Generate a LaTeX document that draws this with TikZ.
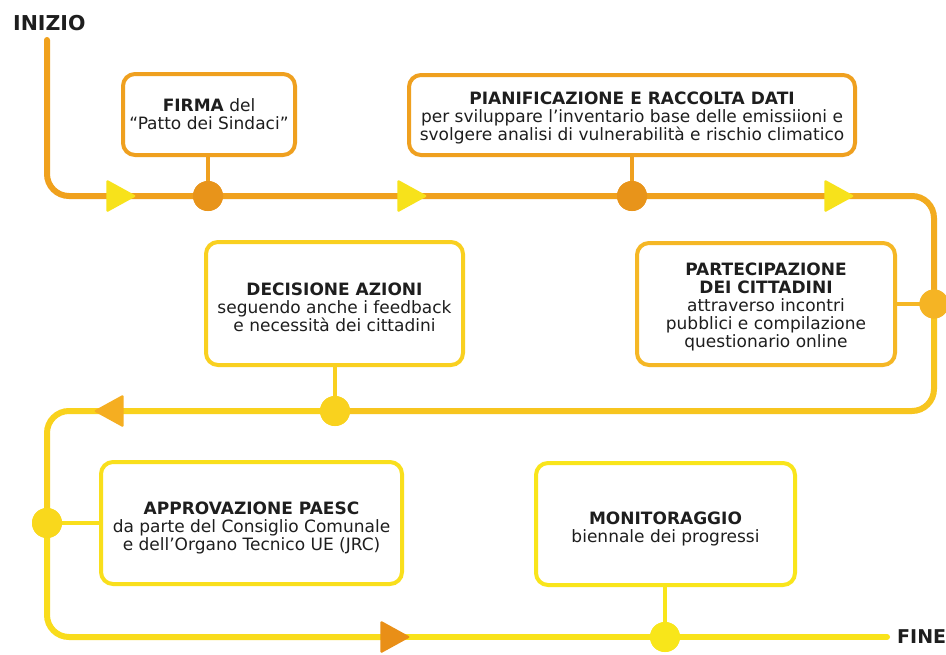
\documentclass[tikz,border=0pt]{standalone}
\usepackage{fontspec}
\setmainfont{DejaVu Sans}
\usetikzlibrary{shapes.geometric}
\definecolor{txt}{HTML}{1E1E1E}
\definecolor{cA}{HTML}{F0A11D}
\definecolor{cB}{HTML}{F2AB1F}
\definecolor{cC}{HTML}{F7C51F}
\definecolor{cD}{HTML}{F9D21D}
\definecolor{cE}{HTML}{F9DC1C}
\definecolor{cF}{HTML}{F9E31A}
\definecolor{bOr}{HTML}{EFA01F}
\definecolor{bB3}{HTML}{F5B725}
\definecolor{bB4}{HTML}{F9D020}
\definecolor{bB5}{HTML}{F9DF1C}
\definecolor{bB6}{HTML}{F9E51B}
\definecolor{dOr}{HTML}{E8941A}
\definecolor{dB3}{HTML}{F5B424}
\definecolor{dB4}{HTML}{F9D21E}
\definecolor{dB5}{HTML}{F9D81C}
\definecolor{dB6}{HTML}{F8E61A}
\definecolor{tY}{HTML}{F7E21B}
\definecolor{tM}{HTML}{F5AE21}
\definecolor{tD}{HTML}{E98F17}
\begin{document}
\begin{tikzpicture}[x=1pt,y=-1pt,
  box/.style={draw, line width=4pt, rounded corners=12pt, fill=white, inner sep=0pt},
  boxtext/.style={align=center, inner sep=0pt, font=\fontsize{17}{18}\selectfont, text=txt},
  dot/.style={circle, inner sep=0pt, minimum size=30pt},
  tri/.style={isosceles triangle, isosceles triangle stretches, inner sep=0pt,
    minimum height=30pt, minimum width=33pt, anchor=apex, rounded corners=1.5pt},
  flow/.style={line width=6pt, line cap=round, rounded corners=22pt},
  link/.style={line width=4.5pt},
  endlabel/.style={font=\bfseries\fontsize{20.5}{22}\selectfont, text=txt, inner sep=0pt}]
\useasboundingbox (0,0) rectangle (946,654);
\fill[white] (0,0) rectangle (946,654);

% labels
\node[endlabel, anchor=west] (inizio) at (13,23) {INIZIO};
\node[endlabel, anchor=west, font=\bfseries\fontsize{19}{20}\selectfont] (fine) at (897,637) {FINE};

% path coordinates
\coordinate (s) at (47,40);
\coordinate (k1) at (47,196);
\coordinate (k2) at (934,196);
\coordinate (k3) at (934,411);
\coordinate (k4) at (47,411);
\coordinate (k5) at (47,637);
\coordinate (e) at (887,637);

% circle positions
\coordinate (p1) at (208,196);
\coordinate (p2) at (632,196);
\coordinate (p3) at (934,304);
\coordinate (p4) at (335,411);
\coordinate (p5) at (47,523);
\coordinate (p6) at (665,637);
\coordinate (t3c) at (840,196);
\coordinate (t5c) at (396,637);

% main flow
\draw[flow, cA] (s) -- (k1) -- (t3c);
\draw[flow, cB] (t3c) -- (k2) -- (p3);
\draw[flow, cC] (p3) -- (k3) -- (p4);
\draw[flow, cD] (p4) -- (k4) -- (p5);
\draw[flow, cE] (p5) -- (k5) -- (t5c);
\draw[flow, cF] (t5c) -- (e);

% boxes
\node[box, draw=bOr, minimum width=172pt, minimum height=81pt] (b1) at (209,114.5) {};
\node[box, draw=bOr, minimum width=446pt, minimum height=80pt] (b2) at (632,115) {};
\node[box, draw=bB3, minimum width=258pt, minimum height=122pt] (b3) at (766,304) {};
\node[box, draw=bB4, minimum width=257pt, minimum height=123pt] (b4) at (334.5,303.5) {};
\node[box, draw=bB5, minimum width=301pt, minimum height=122pt] (b5) at (251.5,523) {};
\node[box, draw=bB6, minimum width=259pt, minimum height=122pt] (b6) at (665.5,524) {};

% box texts
\node[boxtext] (b1t) at ([yshift=0pt]b1.center)
  {\textbf{FIRMA} del\\“Patto dei Sindaci”};
\node[boxtext] (b2t) at ([yshift=-3pt]b2.center)
  {\textbf{PIANIFICAZIONE E RACCOLTA DATI}\\per sviluppare l’inventario base delle emissiioni e\\svolgere analisi di vulnerabilità e rischio climatico};
\node[boxtext] (b3t) at ([yshift=-3pt]b3.center)
  {\textbf{PARTECIPAZIONE}\\\textbf{DEI CITTADINI}\\attraverso incontri\\pubblici e compilazione\\questionario online};
\node[boxtext] (b4t) at ([yshift=-4pt]b4.center)
  {\textbf{DECISIONE AZIONI}\\seguendo anche i feedback\\e necessità dei cittadini};
\node[boxtext] (b5t) at ([yshift=-5pt]b5.center)
  {\textbf{APPROVAZIONE PAESC}\\da parte del Consiglio Comunale\\e dell’Organo Tecnico UE (JRC)};
\node[boxtext] (b6t) at ([yshift=-5pt]b6.center)
  {\textbf{MONITORAGGIO}\\biennale dei progressi};

% circle nodes
\node[dot, fill=dOr] (c1) at (p1) {};
\node[dot, fill=dOr] (c2) at (p2) {};
\node[dot, fill=dB3, minimum size=29pt] (c3) at (p3) {};
\node[dot, fill=dB4] (c4) at (p4) {};
\node[dot, fill=dB5] (c5) at (p5) {};
\node[dot, fill=dB6] (c6) at (p6) {};

% connectors
\draw[link, bOr] (c1 |- b1.south) -- (c1.center);
\draw[link, bOr] (c2 |- b2.south) -- (c2.center);
\draw[link, bB3] (b3.east) -- (c3.center);
\draw[link, bB4] (c4 |- b4.south) -- (c4.center);
\draw[link, bB5] (b5.west) -- (c5.center);
\draw[link, bB6] (c6 |- b6.south) -- (c6.center);
\node[dot, fill=dOr] at (p1) {};
\node[dot, fill=dOr] at (p2) {};
\node[dot, fill=dB3, minimum size=29pt] at (p3) {};
\node[dot, fill=dB4] at (p4) {};
\node[dot, fill=dB5] at (p5) {};
\node[dot, fill=dB6] at (p6) {};

% triangles
\node[tri, fill=tY] (t1) at (137,196) {};
\node[tri, fill=tY] (t2) at (428,196) {};
\node[tri, fill=tY] (t3) at (855,196) {};
\node[tri, fill=tM, shape border rotate=180] (t4) at (93,411) {};
\node[tri, fill=tD] (t5) at (411,637) {};
\end{tikzpicture}
\end{document}
